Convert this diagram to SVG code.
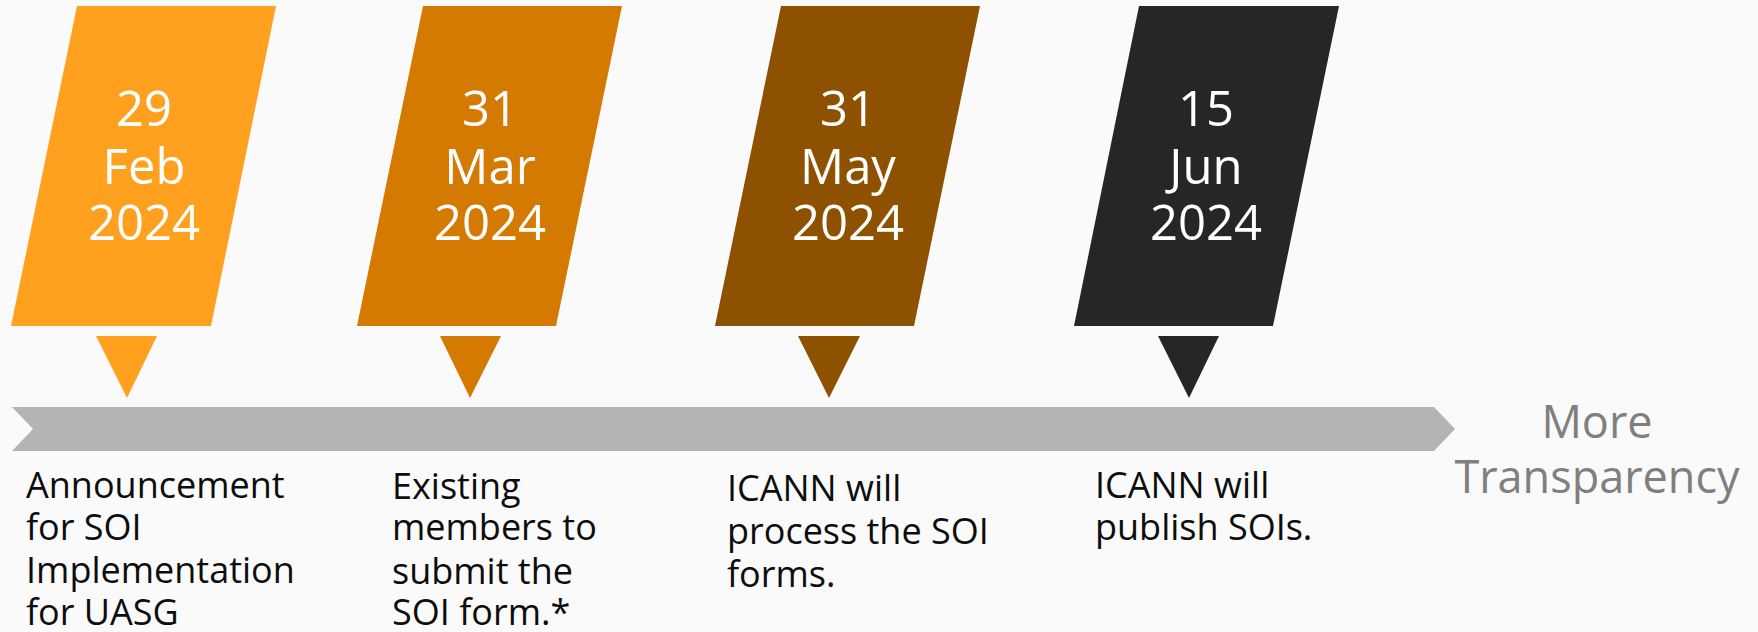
<svg xmlns="http://www.w3.org/2000/svg" width="1758" height="632" viewBox="0 0 1758 632">
  <style>
    .date { font-family: "Open Sans", "Noto Sans", sans-serif; font-size: 49px; fill: #ffffff; text-anchor: middle; }
    .desc { font-family: "Open Sans", "Noto Sans", sans-serif; font-size: 36px; fill: #0d0d0d; }
    .goal { font-family: "Open Sans", "Noto Sans", sans-serif; font-size: 45px; fill: #7f7f7f; text-anchor: middle; }
    .c1 { fill: #ffa11f; }
    .c2 { fill: #d57a00; }
    .c3 { fill: #8d5100; }
    .c4 { fill: #262626; }
  </style>
  <rect width="1758" height="632" fill="#fafafa"/>

  <!-- timeline bar -->
  <g id="connectors">
    <polygon id="timeline-bar" points="12,407 1434,407 1455,429 1434,451 12,451 33,429" fill="#b3b5b2"/>
  </g>

  <g id="milestone-1">
    <polygon class="c1" points="77,6 276,6 211,326 11,326"/>
    <polygon class="c1" points="96,336 157,336 127,398"/>
    <text class="date" x="144" y="126">29</text>
    <text class="date" x="144" y="184">Feb</text>
    <text class="date" x="144" y="240">2024</text>
    <text class="desc" x="26">
      <tspan x="26" y="498">Announcement</tspan>
      <tspan x="26" y="540">for SOI</tspan>
      <tspan x="26" y="583">Implementation</tspan>
      <tspan x="26" y="625">for UASG</tspan>
    </text>
  </g>

  <g id="milestone-2">
    <polygon class="c2" points="423,6 622,6 556,326 357,326"/>
    <polygon class="c2" points="440,336 501,336 470,398"/>
    <text class="date" x="490" y="126">31</text>
    <text class="date" x="490" y="184">Mar</text>
    <text class="date" x="490" y="240">2024</text>
    <text class="desc">
      <tspan x="392" y="499">Existing</tspan>
      <tspan x="392" y="540">members to</tspan>
      <tspan x="392" y="584">submit the</tspan>
      <tspan x="392" y="625">SOI form.*</tspan>
    </text>
  </g>

  <g id="milestone-3">
    <polygon class="c3" points="781,6 980,6 914,326 715,326"/>
    <polygon class="c3" points="798,336 860,336 829,398"/>
    <text class="date" x="848" y="126">31</text>
    <text class="date" x="848" y="184">May</text>
    <text class="date" x="848" y="240">2024</text>
    <text class="desc">
      <tspan x="727" y="501">ICANN will</tspan>
      <tspan x="727" y="544">process the SOI</tspan>
      <tspan x="727" y="587">forms.</tspan>
    </text>
  </g>

  <g id="milestone-4">
    <polygon class="c4" points="1139,6 1339,6 1273,326 1074,326"/>
    <polygon class="c4" points="1158,336 1219,336 1189,398"/>
    <text class="date" x="1206" y="126">15</text>
    <text class="date" x="1206" y="184">Jun</text>
    <text class="date" x="1206" y="240">2024</text>
    <text class="desc">
      <tspan x="1095" y="498">ICANN will</tspan>
      <tspan x="1095" y="540">publish SOIs.</tspan>
    </text>
  </g>

  <g id="goal">
    <text class="goal" x="1597" y="438">More</text>
    <text class="goal" x="1597" y="493">Transparency</text>
  </g>
</svg>
